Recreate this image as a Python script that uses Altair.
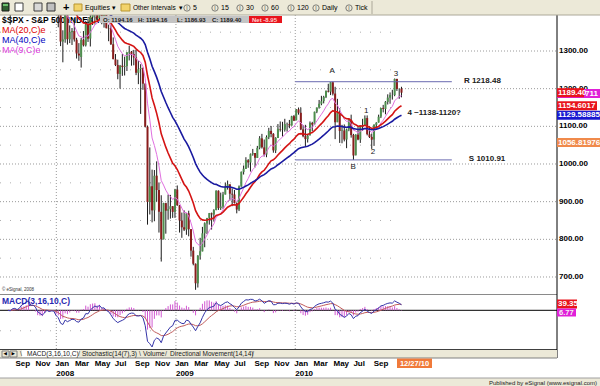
import altair as alt
import numpy as np
import pandas as pd

# ---------------- data (weekly bars, S&P 500) ----------------
first_week = "2007-08-06"

opens = [1433, 1453, 1446, 1479, 1474, 1453, 1484, 1526, 1527, 1557, 1562, 1500, 1535, 1509, 1454, 1459, 1440, 1481, 1505, 1468, 1484, 1478,
         1412, 1401, 1325, 1331, 1395, 1331, 1350, 1353, 1330, 1293, 1284, 1330, 1315, 1370, 1333, 1390, 1398, 1414, 1388, 1425,
         1376, 1400, 1361, 1360, 1318, 1278, 1263, 1239, 1261, 1258, 1260, 1296, 1298, 1292, 1283, 1242, 1252, 1255, 1213, 1099,
         899, 941, 877, 969, 931, 873, 800, 896, 876, 880, 888, 873,
         932, 890, 850, 832, 826, 869, 827, 770, 735, 683, 757, 768, 816, 842, 857, 869, 866, 878, 929, 883,
         887, 919, 940, 946, 921, 919, 896, 879, 940, 979, 987, 1010, 1004, 1026, 1029, 1016, 1043, 1068, 1044, 1025,
         1071, 1088, 1080, 1036, 1069, 1093, 1091, 1091, 1106, 1106, 1102, 1127,
         1116, 1145, 1136, 1092, 1074, 1066, 1076, 1109, 1105, 1139, 1150, 1160, 1167, 1178, 1194, 1192, 1217, 1187, 1111, 1136,
         1088, 1089, 1065, 1092, 1117, 1077, 1023, 1078, 1065, 1103, 1102, 1122, 1079, 1072, 1065, 1104, 1110, 1126, 1149, 1146,
         1165, 1176, 1183, 1183, 1226, 1199, 1200]
highs = [1503, 1466, 1480, 1481, 1497, 1489, 1538, 1533, 1561, 1576, 1564, 1536, 1552, 1520, 1492, 1460, 1488, 1508, 1523, 1485, 1498, 1478,
         1420, 1417, 1355, 1404, 1396, 1368, 1361, 1388, 1335, 1321, 1335, 1353, 1380, 1386, 1395, 1400, 1422, 1416, 1426, 1440,
         1406, 1404, 1370, 1370, 1336, 1292, 1277, 1263, 1292, 1285, 1297, 1314, 1300, 1303, 1303, 1274, 1265, 1256, 1215, 1102,
         1044, 985, 984, 1007, 951, 917, 897, 897, 919, 918, 888, 934,
         943, 891, 871, 877, 870, 876, 827, 780, 736, 758, 804, 833, 845, 857, 870, 871, 880, 930, 930, 924,
         926, 951, 956, 946, 935, 931, 898, 943, 980, 996, 1018, 1013, 1028, 1040, 1029, 1048, 1074, 1080, 1065, 1076,
         1096, 1101, 1082, 1071, 1106, 1113, 1112, 1120, 1110, 1117, 1128, 1130,
         1146, 1150, 1150, 1103, 1104, 1080, 1113, 1112, 1139, 1150, 1170, 1181, 1181, 1195, 1213, 1217.5, 1218.48, 1205, 1173, 1148,
         1104, 1105, 1094, 1121, 1131, 1080, 1079, 1099, 1103, 1120, 1129, 1129, 1100, 1081, 1105, 1111, 1131, 1149, 1157, 1167,
         1185, 1190, 1197, 1227, 1226, 1200, 1205]
lows = [1430, 1370, 1433, 1432, 1453, 1439, 1476, 1510, 1527, 1546, 1500, 1490, 1502, 1448, 1440, 1407, 1406, 1460, 1463, 1435, 1468, 1411,
        1363, 1313, 1270, 1322, 1317, 1321, 1316, 1325, 1280, 1274, 1256, 1312, 1312, 1324, 1312, 1369, 1379, 1382, 1386, 1371,
        1362, 1360, 1326, 1316, 1278, 1260, 1225, 1200, 1234, 1235, 1247, 1275, 1261, 1262, 1236, 1212, 1133, 1197, 1097, 839,
        866, 845, 848, 900, 818, 741, 800, 815, 852, 855, 857, 857,
        889, 818, 804, 822, 812, 808, 754, 731, 666, 672, 746, 768, 779, 814, 839, 826, 847, 877, 878, 878,
        881, 919, 932, 903, 888, 895, 869, 875, 940, 972, 987, 990, 980, 1022, 991, 1016, 1039, 1041, 1020, 1018,
        1066, 1071, 1030, 1029, 1069, 1086, 1073, 1086, 1086, 1095, 1102, 1114,
        1116, 1131, 1090, 1071, 1045, 1057, 1076, 1087, 1105, 1135, 1147, 1156, 1161, 1175, 1190, 1183, 1182, 1066, 1111, 1056,
        1055, 1060, 1042, 1087, 1070, 1010.91, 1023, 1063, 1056, 1088, 1102, 1076, 1069, 1040, 1048, 1092, 1110, 1122, 1137, 1132,
        1158, 1160, 1171, 1180, 1194, 1173, 1177]
closes = [1453.64, 1445.94, 1479.37, 1473.99, 1453.55, 1484.25, 1525.75, 1526.75, 1557.59, 1561.80, 1500.63, 1535.28, 1509.65, 1453.70,
          1458.74, 1440.70, 1481.14, 1504.66, 1467.95, 1484.46, 1478.49, 1411.63,
          1401.02, 1325.19, 1330.61, 1395.42, 1331.29, 1349.99, 1353.11, 1330.63, 1293.37, 1288.14, 1329.51, 1315.22, 1370.40, 1332.83,
          1390.33, 1397.84, 1413.90, 1388.28, 1425.35, 1375.93, 1400.38, 1360.68, 1360.03, 1317.93, 1278.38, 1262.90, 1239.49, 1260.68,
          1257.76, 1260.31, 1296.32, 1298.20, 1292.20, 1282.83, 1242.31, 1251.70, 1255.08, 1213.27, 1099.23, 899.22, 940.55, 876.77,
          968.75, 930.99, 873.29, 800.03, 896.24, 876.07, 879.73, 887.88, 872.80, 931.80,
          890.35, 850.12, 831.95, 825.88, 868.60, 826.84, 770.05, 735.09, 683.38, 756.55, 768.54, 815.94, 842.50, 856.56, 869.60, 866.23,
          877.52, 929.23, 882.88, 887.00, 919.14, 940.09, 946.21, 921.23, 918.90, 896.42, 879.13, 940.38, 979.26, 987.48, 1010.48, 1004.09,
          1026.13, 1028.93, 1016.40, 1042.73, 1068.30, 1044.38, 1025.21, 1071.49, 1087.68, 1079.60, 1036.19, 1069.30, 1093.48, 1091.38,
          1091.49, 1105.98, 1106.41, 1102.47, 1126.48, 1115.10,
          1144.98, 1136.03, 1091.76, 1073.87, 1066.19, 1075.51, 1109.17, 1104.49, 1138.70, 1149.99, 1159.90, 1166.59, 1178.10, 1194.37,
          1192.13, 1217.28, 1186.69, 1110.88, 1135.68, 1087.69, 1089.41, 1064.88, 1091.60, 1117.51, 1076.76, 1022.58, 1077.96, 1064.88,
          1102.66, 1101.60, 1121.64, 1079.25, 1071.69, 1064.59, 1104.51, 1109.55, 1125.59, 1148.67, 1146.24, 1165.15, 1176.19, 1183.08,
          1183.26, 1225.85, 1199.21, 1199.73, 1189.40]

price_ticks = [700, 800, 900, 1000, 1100, 1200, 1300]
minor_levels = [750, 850, 950, 1050, 1150, 1250, 1350]
year_starts = ["2008-01-01", "2009-01-01", "2010-01-01"]
month_starts = ["2007-09-01", "2007-11-01", "2008-01-01", "2008-03-01", "2008-05-01", "2008-07-01", "2008-09-01",
                "2008-11-01", "2009-01-01", "2009-03-01", "2009-05-01", "2009-07-01", "2009-09-01", "2009-11-01",
                "2010-01-01", "2010-03-01", "2010-05-01", "2010-07-01", "2010-09-01"]
levels = [1218.48, 1010.91]
level_text = ["R 1218.48", "S 1010.91"]
level_label_dates = ["2011-06-01", "2011-06-16"]
wave_text = ["A", "B", "1", "2", "3"]
wave_dates = ["2010-04-24", "2010-06-27", "2010-08-06", "2010-08-27", "2010-11-05"]
wave_prices = [1247, 992, 1141, 1032, 1239]
target_text = ["4 ~1138-1120?"]
target_dates = ["2010-12-10"]
target_prices = [1135]
box_values = [1186.9, 1189.40, 1154.6017, 1129.58885, 1056.81976]
box_texts = ["711", "1189.40", "1154.6017", "1129.58885", "1056.81976"]
box_text_x = [585, 558, 558, 558, 558]
box_colors = ["#E020D8", "#E8141C", "#E8141C", "#1818D0", "#F08A4B"]
box_ends = [600, 584, 597, 600, 600]

# ---------------- derived table ----------------
dates = pd.date_range(first_week, periods=len(closes), freq="7D")
df = pd.DataFrame({"date": dates, "open": opens, "high": highs, "low": lows, "close": closes})
df["dir"] = np.where(df["close"] >= df["open"], "up", "down")
c = df["close"]
df["ma9"] = c.ewm(span=9, adjust=False).mean()
df["ma20"] = c.ewm(span=20, adjust=False).mean()
df["ma40"] = c.ewm(span=40, adjust=False).mean()
df["macd"] = c.ewm(span=3, adjust=False).mean() - c.ewm(span=16, adjust=False).mean()
df["signal"] = df["macd"].ewm(span=10, adjust=False).mean()
df["hist"] = df["macd"] - df["signal"]
df["zero"] = 0.0

FONT = "Liberation Sans"
XS = alt.Scale(domain=[alt.DateTime(year=2007, month=7, date=28), alt.DateTime(year=2012, month=7, date=6)], range=[0, 600])
PS = alt.Scale(domain=[657.5, 1395.6], range=[293, 15])
MS = alt.Scale(domain=[-227, 89.8], range=[349, 295])
one = pd.DataFrame({"k": [0]})


def Xf(f):
    return alt.X(f"{f}:T", scale=XS, axis=None)


def Yp(f):
    return alt.Y(f"{f}:Q", scale=PS, axis=None)


def Ym(f):
    return alt.Y(f"{f}:Q", scale=MS, axis=None)


def rect(x1, x2, y1, y2, fill, stroke=None, sw=1):
    kw = {"fill": fill}
    if stroke:
        kw["stroke"] = stroke
        kw["strokeWidth"] = sw
    return alt.Chart(one).mark_rect(**kw).encode(x=alt.value(x1), x2=alt.value(x2), y=alt.value(y1), y2=alt.value(y2))


def txt(t, x, y, size=8, color="black", weight="normal", align="left", font=FONT):
    return alt.Chart(one).mark_text(text=t, fontSize=size, color=color, fontWeight=weight, align=align,
                                    baseline="middle", font=font).encode(x=alt.value(x), y=alt.value(y))


def hline(y, x1, x2, color, dash=None, w=1):
    kw = {"color": color, "strokeWidth": w}
    if dash:
        kw["strokeDash"] = dash
    return alt.Chart(one).mark_rule(**kw).encode(x=alt.value(x1), x2=alt.value(x2), y=alt.value(y))


def vline(x, y1, y2, color, w=1):
    return alt.Chart(one).mark_rule(color=color, strokeWidth=w).encode(x=alt.value(x), y=alt.value(y1), y2=alt.value(y2))


L = []
GRID = "#9a9a9a"
# grids
tick_df = pd.DataFrame({"p": price_ticks})
L.append(alt.Chart(tick_df).mark_rule(color=GRID, strokeDash=[1, 2]).encode(x=alt.value(0), x2=alt.value(557), y=Yp("p")))
minor_df = pd.DataFrame({"p": minor_levels})
L.append(alt.Chart(minor_df).mark_rule(color="#b0b0b0", strokeDash=[1, 9]).encode(x=alt.value(0), x2=alt.value(398), y=Yp("p")))
yr_df = pd.DataFrame({"d": pd.to_datetime(year_starts)})
L.append(alt.Chart(yr_df).mark_rule(color=GRID, strokeDash=[1, 2]).encode(x=Xf("d"), y=alt.value(15), y2=alt.value(349)))
zero_df = pd.DataFrame({"v": [0.0]})
L.append(alt.Chart(zero_df).mark_rule(color="#000000", strokeWidth=1).encode(x=alt.value(0), x2=alt.value(557), y=Ym("v")))
mminor = pd.DataFrame({"v": [-120.0]})
L.append(alt.Chart(mminor).mark_rule(color="#b0b0b0", strokeDash=[1, 9]).encode(x=alt.value(0), x2=alt.value(398), y=Ym("v")))

# header title (behind candles)
L.append(txt("$SPX - S&P 500 INDEX,W", 2, 19.5, size=8.5, weight="bold"))

# MACD
base = alt.Chart(df)
L.append(base.mark_rule(color="#D158D1", strokeWidth=1).encode(x=Xf("date"), y=Ym("hist"), y2="zero:Q"))
L.append(base.mark_line(color="#C05A5A", strokeWidth=1).encode(x=Xf("date"), y=Ym("signal")))
L.append(base.mark_line(color="#3434A8", strokeWidth=1).encode(x=Xf("date"), y=Ym("macd")))

# candles
L.append(base.mark_rule(color="#1c1c1c", strokeWidth=1).encode(x=Xf("date"), y=Yp("low"), y2="high:Q"))
L.append(base.mark_bar(size=2).encode(
    x=Xf("date"), y=Yp("open"), y2="close:Q",
    color=alt.Color("dir:N", scale=alt.Scale(domain=["up", "down"], range=["#4E8E4E", "#8A1C1C"]), legend=None)))

# moving averages
L.append(base.mark_line(color="#E070E0", strokeWidth=1).encode(x=Xf("date"), y=Yp("ma9")))
L.append(base.mark_line(color="#D41414", strokeWidth=1.6).encode(x=Xf("date"), y=Yp("ma20")))
L.append(base.mark_line(color="#1A1AA0", strokeWidth=1.6).encode(x=Xf("date"), y=Yp("ma40")))

# resistance / support
lev_df = pd.DataFrame({"lvl": levels, "t": level_text,
                       "d0": pd.to_datetime(["2010-01-01"] * 2), "d1": pd.to_datetime(["2011-04-25"] * 2),
                       "dl": pd.to_datetime(level_label_dates)})
L.append(alt.Chart(lev_df).mark_rule(color="#6A6AB0", strokeWidth=1).encode(x=Xf("d0"), x2="d1:T", y=Yp("lvl")))
L.append(alt.Chart(lev_df).mark_text(align="left", baseline="middle", fontSize=8, fontWeight="bold", font=FONT, dy=-1,
                                     color="#202020").encode(x=Xf("dl"), y=Yp("lvl"), text="t:N"))
wave_df = pd.DataFrame({"t": wave_text, "d": pd.to_datetime(wave_dates), "p": wave_prices})
L.append(alt.Chart(wave_df).mark_text(align="center", baseline="middle", fontSize=8, font=FONT, color="#202020").encode(
    x=Xf("d"), y=Yp("p"), text="t:N"))
target_df = pd.DataFrame({"t": target_text, "d": pd.to_datetime(target_dates), "p": target_prices})
L.append(alt.Chart(target_df).mark_text(align="left", baseline="middle", fontSize=8, fontWeight="bold", font=FONT,
                                        color="#202020").encode(x=Xf("d"), y=Yp("p"), text="t:N"))

# panel borders
L.append(hline(294.5, 0, 557, "#8a8a8a"))
L.append(hline(349.5, 0, 557, "#404040"))
L.append(txt("© eSignal, 2008", 2, 290, size=4.5, color="#333333"))

# right axis
L.append(vline(557, 15, 358, "#000000"))
L.append(alt.Chart(tick_df).mark_text(align="left", baseline="middle", fontSize=8, fontWeight="bold", font=FONT).encode(
    x=alt.value(559), y=Yp("p"), text=alt.Text("p:Q", format=".2f")))

# right value boxes
half = 4.5 / (278.0 / (1395.6 - 657.5))
for v, t, tx, col, xe in zip(box_values, box_texts, box_text_x, box_colors, box_ends):
    bd = pd.DataFrame({"v": [v], "lo": [v - half], "hi": [v + half], "t": [t]})
    L.append(alt.Chart(bd).mark_rect(fill=col).encode(x=alt.value(557), x2=alt.value(xe), y=Yp("lo"), y2="hi:Q"))
    L.append(alt.Chart(bd).mark_text(align="left", baseline="middle", fontSize=8, fontWeight="bold", font=FONT,
                                     color="white").encode(x=alt.value(tx), y=Yp("v"), text="t:N"))

# MACD value boxes
L.append(rect(557, 577, 299.5, 308.5, "#E8141C"))
L.append(txt("39.35", 558, 304, size=8, color="white", weight="bold"))
L.append(rect(557, 576, 308.5, 316.5, "#E020D8"))
L.append(txt("6.77", 559, 312.5, size=7.5, color="#F4F4F4", weight="bold"))

# toolbar
L.append(rect(0, 600, 0, 15, "#ECE9D8"))
L.append(hline(15, 0, 600, "#ACA899"))
L.append(vline(372, 1, 14, "#ACA899"))
L.append(rect(2, 9, 3, 11, "#2F5F2F", "#1a1a1a"))
L.append(rect(3, 8, 4, 6, "#6CC06C"))
L.append(rect(15, 23, 3, 11, "#FFFFFF", "#404040"))
L.append(rect(34, 42, 3, 11, "#D8D8D8", "#404040"))
L.append(rect(47, 55, 3, 11, "#C0C0C0", "#303030"))
L.append(txt("+", 63, 8, size=11, weight="bold"))
L.append(rect(74, 82, 4, 11, "#F2D36B", "#B89530"))
L.append(txt("Equities", 85, 8, size=7))
L.append(txt("▾", 112, 8, size=7, font="DejaVu Sans"))
L.append(rect(121, 130, 4, 11, "#F2D36B", "#B89530"))
L.append(txt("Other Intervals", 133, 8, size=6.5))
L.append(txt("▾", 179, 8, size=7, font="DejaVu Sans"))
circ_df = pd.DataFrame({"x": [187, 215, 240, 265, 291, 316, 349]})
L.append(alt.Chart(circ_df).mark_point(shape="circle", filled=False, color="#505050", size=40, strokeWidth=1).encode(
    x=alt.X("x:Q", scale=None), y=alt.value(8)))
L.append(alt.Chart(circ_df).mark_text(text="I", fontSize=5, font=FONT, color="#404040").encode(
    x=alt.X("x:Q", scale=None), y=alt.value(8)))
for t, x in [("5", 193), ("15", 221), ("30", 246), ("60", 271), ("120", 297), ("Daily", 322), ("Tick", 355)]:
    L.append(txt(t, x, 8, size=7))

# OHLC header box
L.append(rect(100, 249, 16, 23, "#C4C4C4"))
for t, x in [("O: 1194.16", 103), ("H: 1194.16", 138), ("L: 1186.93", 177), ("C: 1189.40", 212)]:
    L.append(txt(t, x, 19.5, size=6, weight="bold", color="#202020"))
L.append(rect(249, 282, 16, 23, "#E8141C"))
L.append(txt("Net -8.95", 252, 19.5, size=6, weight="bold", color="#FFD0D0"))

# legend
L.append(txt("MA(20,C)e", 2, 29.5, size=9, color="#E00000"))
L.append(txt("MA(40,C)e", 2, 40, size=9, color="#0000C0"))
L.append(txt("MA(9,C)e", 2, 50, size=9, color="#E040E0"))
L.append(txt("MACD(3,16,10,C)", 2, 300.5, size=8.5, color="#2828B0", weight="bold"))

# tab strip
L.append(rect(0, 557, 350, 358, "#ECE9D8"))
L.append(hline(358, 0, 557, "#808080"))
L.append(rect(2, 9, 351, 357, "#ECE9D8", "#808080"))
L.append(rect(10, 17, 351, 357, "#ECE9D8", "#808080"))
L.append(txt("◀", 3.5, 354, size=4.5, font="DejaVu Sans"))
L.append(txt("▶", 11.5, 354, size=4.5, font="DejaVu Sans"))
L.append(rect(22, 79, 350, 357, "#FFFFFF"))
for t, x in [("\\", 20), ("/", 78), ("\\", 139), ("/", 165), ("/", 252)]:
    L.append(txt(t, x, 354, size=7, color="#404040"))
for t, x in [("MACD(3,16,10,C)", 27), ("Stochastic(14(7),3)", 82), ("Volume", 143), ("Directional Movement(14,14)", 170)]:
    L.append(txt(t, x, 354, size=6.5, color="#202020"))

# x axis labels
m_df = pd.DataFrame({"d": pd.to_datetime(month_starts)})
L.append(alt.Chart(m_df).mark_text(align="left", baseline="middle", fontSize=8, fontWeight="bold", font=FONT, dx=-1).encode(
    x=Xf("d"), y=alt.value(363.5), text=alt.Text("d:T", format="%b")))
L.append(alt.Chart(yr_df).mark_text(align="left", baseline="middle", fontSize=8, fontWeight="bold", font=FONT, dx=0).encode(
    x=Xf("d"), y=alt.value(373.5), text=alt.Text("d:T", format="%Y")))
L.append(rect(397, 432, 358.5, 368, "#F07A3A"))
L.append(txt("12/27/10", 414.5, 363.5, size=7.5, color="white", weight="bold", align="center"))

# bottom strip
L.append(rect(0, 600, 378, 386, "#ECE9D8"))
L.append(hline(378, 0, 600, "#A0A0A0"))
L.append(txt("Published by eSignal (www.esignal.com)", 597, 382.5, size=6, color="#202020", align="right"))

chart = alt.layer(*L).resolve_scale(y="independent").properties(
    width=600, height=386, autosize=alt.AutoSizeParams(type="none"),
    padding={"left": 0, "top": 0, "right": 0, "bottom": 0}, background="white"
).configure_view(stroke=None)

chart.save("out.html", embed_options={"renderer": "svg", "actions": False})
